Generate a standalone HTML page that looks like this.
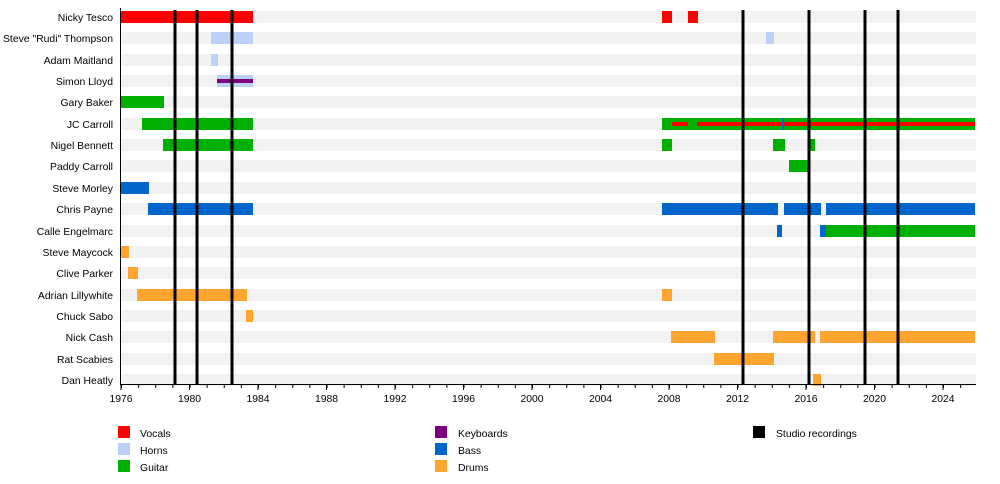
<!DOCTYPE html>
<html><head><meta charset="utf-8"><style>
html,body{margin:0;padding:0;background:#fff;}
svg{display:block;font-family:"Liberation Sans",Arial,sans-serif;font-size:10.4px;}
</style></head><body>
<svg width="1000" height="484" viewBox="0 0 1000 484" xmlns="http://www.w3.org/2000/svg">
<defs>
<pattern id="tk" x="121" y="384" width="17.125" height="6" patternUnits="userSpaceOnUse"><rect x="0" y="0" width="1" height="4" fill="#000"/></pattern>
</defs>
<g fill="#f2f2f2">
<rect x="121" y="11" width="855" height="12"/><rect x="121" y="32" width="855" height="12"/><rect x="121" y="54" width="855" height="12"/><rect x="121" y="75" width="855" height="12"/><rect x="121" y="96" width="855" height="12"/><rect x="121" y="118" width="855" height="12"/><rect x="121" y="139" width="855" height="12"/><rect x="121" y="160" width="855" height="12"/><rect x="121" y="182" width="855" height="12"/><rect x="121" y="203" width="855" height="12"/><rect x="121" y="225" width="855" height="12"/><rect x="121" y="246" width="855" height="12"/><rect x="121" y="267" width="855" height="12"/><rect x="121" y="289" width="855" height="12"/><rect x="121" y="310" width="855" height="12"/><rect x="121" y="331" width="855" height="12"/><rect x="121" y="353" width="855" height="12"/><rect x="121" y="374" width="855" height="12"/>
</g>
<g text-anchor="end" fill="#000">
<text x="113" y="21">Nicky Tesco</text><text x="113" y="42">Steve "Rudi" Thompson</text><text x="113" y="64">Adam Maitland</text><text x="113" y="85">Simon Lloyd</text><text x="113" y="106">Gary Baker</text><text x="113" y="128">JC Carroll</text><text x="113" y="149">Nigel Bennett</text><text x="113" y="170">Paddy Carroll</text><text x="113" y="192">Steve Morley</text><text x="113" y="213">Chris Payne</text><text x="113" y="235">Calle Engelmarc</text><text x="113" y="256">Steve Maycock</text><text x="113" y="277">Clive Parker</text><text x="113" y="299">Adrian Lillywhite</text><text x="113" y="320">Chuck Sabo</text><text x="113" y="341">Nick Cash</text><text x="113" y="363">Rat Scabies</text><text x="113" y="384">Dan Heatly</text>
</g>
<g fill="#ff0000"><rect x="121" y="11" width="132" height="12"/><rect x="662" y="11" width="10" height="12"/><rect x="688" y="11" width="10" height="12"/></g>
<g fill="#bbd1f7"><rect x="211" y="32" width="42" height="12"/><rect x="766" y="32" width="8" height="12"/><rect x="211" y="54" width="7" height="12"/><rect x="217" y="75" width="36" height="12"/></g>
<rect x="217" y="79" width="36" height="4" fill="#800080"/>
<g fill="#00b000"><rect x="121" y="96" width="43" height="12"/><rect x="142" y="118" width="111" height="12"/><rect x="662" y="118" width="313" height="12"/><rect x="163" y="139" width="90" height="12"/><rect x="662" y="139" width="10" height="12"/><rect x="773" y="139" width="12" height="12"/><rect x="809" y="139" width="6" height="12"/><rect x="789" y="160" width="20" height="12"/><rect x="826" y="225" width="149" height="12"/></g>
<g fill="#ff0000"><rect x="672" y="122" width="16" height="4"/><rect x="697" y="122" width="278" height="4"/></g>
<g fill="#0066cc"><rect x="782" y="118" width="2" height="12"/><rect x="121" y="182" width="28" height="12"/><rect x="148" y="203" width="105" height="12"/><rect x="662" y="203" width="116" height="12"/><rect x="784" y="203" width="37" height="12"/><rect x="826" y="203" width="149" height="12"/><rect x="777" y="225" width="5" height="12"/><rect x="820" y="225" width="6" height="12"/></g>
<g fill="#ffa52f"><rect x="121" y="246" width="8" height="12"/><rect x="128" y="267" width="10" height="12"/><rect x="137" y="289" width="110" height="12"/><rect x="662" y="289" width="10" height="12"/><rect x="246" y="310" width="7" height="12"/><rect x="671" y="331" width="44" height="12"/><rect x="773" y="331" width="42" height="12"/><rect x="820" y="331" width="155" height="12"/><rect x="714" y="353" width="60" height="12"/><rect x="813" y="374" width="8" height="12"/></g>
<g fill="#000"><rect x="173.5" y="10" width="3" height="374"/><rect x="195.5" y="10" width="3" height="374"/><rect x="230.5" y="10" width="3" height="374"/><rect x="741.5" y="10" width="3" height="374"/><rect x="807.5" y="10" width="3" height="374"/><rect x="863.5" y="10" width="3" height="374"/><rect x="896.5" y="10" width="3" height="374"/></g>
<line x1="120.5" y1="8" x2="120.5" y2="384" stroke="#000"/>
<line x1="120" y1="384.5" x2="976" y2="384.5" stroke="#000"/>
<rect x="120.5" y="384" width="856" height="4" fill="url(#tk)"/>
<g stroke="#000"><line x1="121" y1="384" x2="121" y2="390"/><line x1="189.5" y1="384" x2="189.5" y2="390"/><line x1="258" y1="384" x2="258" y2="390"/><line x1="326.5" y1="384" x2="326.5" y2="390"/><line x1="395" y1="384" x2="395" y2="390"/><line x1="463.5" y1="384" x2="463.5" y2="390"/><line x1="532" y1="384" x2="532" y2="390"/><line x1="600.5" y1="384" x2="600.5" y2="390"/><line x1="669" y1="384" x2="669" y2="390"/><line x1="737.5" y1="384" x2="737.5" y2="390"/><line x1="806" y1="384" x2="806" y2="390"/><line x1="874.5" y1="384" x2="874.5" y2="390"/><line x1="943" y1="384" x2="943" y2="390"/></g>
<g text-anchor="middle" fill="#000"><text x="121" y="402">1976</text><text x="189.5" y="402">1980</text><text x="258" y="402">1984</text><text x="326.5" y="402">1988</text><text x="395" y="402">1992</text><text x="463.5" y="402">1996</text><text x="532" y="402">2000</text><text x="600.5" y="402">2004</text><text x="669" y="402">2008</text><text x="737.5" y="402">2012</text><text x="806" y="402">2016</text><text x="874.5" y="402">2020</text><text x="943" y="402">2024</text></g>
<rect x="118" y="426" width="12" height="12" fill="#ff0000"/><text x="140" y="437">Vocals</text>
<rect x="118" y="443" width="12" height="12" fill="#bbd1f7"/><text x="140" y="454">Horns</text>
<rect x="118" y="460" width="12" height="12" fill="#00b000"/><text x="140" y="471">Guitar</text>
<rect x="435" y="426" width="12" height="12" fill="#800080"/><text x="458" y="437">Keyboards</text>
<rect x="435" y="443" width="12" height="12" fill="#0066cc"/><text x="458" y="454">Bass</text>
<rect x="435" y="460" width="12" height="12" fill="#ffa52f"/><text x="458" y="471">Drums</text>
<rect x="753" y="426" width="12" height="12" fill="#000"/><text x="776" y="437">Studio recordings</text>
</svg>
</body></html>
